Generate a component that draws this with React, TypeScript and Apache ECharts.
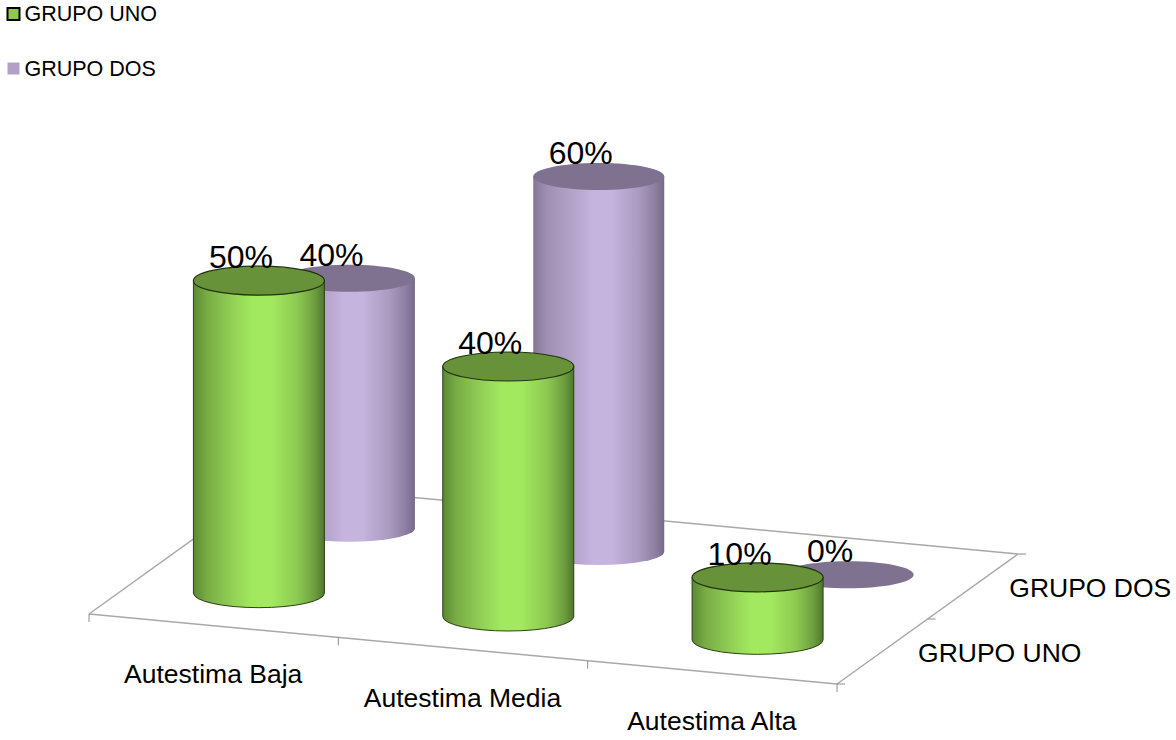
import React, { useEffect, useRef } from "react";
import * as echarts from "echarts";

const categories = ["Autestima Baja", "Autestima Media", "Autestima Alta"];
const groupNames = ["GRUPO UNO", "GRUPO DOS"];
const grupoUno = [50, 40, 10];
const grupoDos = [40, 60, 0];

const FONT = '"Liberation Sans", Arial, sans-serif';
const DEPTH_X = 90.5;
const DEPTH_Y = -65;
const SLOPE = 70 / 3;

function project(api: any, u: number, d: number, v: number) {
  const p = api.coord([u, v]);
  return [p[0] + d * DEPTH_X, p[1] + u * SLOPE + d * DEPTH_Y];
}

const greenGrad = () =>
  new echarts.graphic.LinearGradient(0, 0, 1, 0, [
    { offset: 0, color: "#5a8832" },
    { offset: 0.1, color: "#78ab45" },
    { offset: 0.3, color: "#92d056" },
    { offset: 0.45, color: "#a2e95f" },
    { offset: 0.6, color: "#a2e95f" },
    { offset: 0.8, color: "#8cc850" },
    { offset: 0.93, color: "#6c9c3e" },
    { offset: 1, color: "#4f762d" },
  ]);
const purpleGrad = () =>
  new echarts.graphic.LinearGradient(0, 0, 1, 0, [
    { offset: 0, color: "#84769a" },
    { offset: 0.1, color: "#9e8fb2" },
    { offset: 0.3, color: "#b3a3c9" },
    { offset: 0.45, color: "#c4b4de" },
    { offset: 0.6, color: "#c4b4de" },
    { offset: 0.8, color: "#ab9bc1" },
    { offset: 0.93, color: "#8d7fa1" },
    { offset: 1, color: "#756989" },
  ]);

function cylinder(d: number, green: boolean) {
  return (_: any, api: any) => {
    const u = api.value(0) as number;
    const v = api.value(1) as number;
    const base = project(api, u, d, 0);
    const top = project(api, u, d, v);
    const rx = 65.5;
    const ry = green ? 14.5 : 13.5;
    const stroke = green ? "#2c4116" : undefined;
    const children: any[] = [];
    if (v > 0) {
      children.push({
        type: "path",
        shape: {
          pathData: `M${base[0] - rx} ${top[1]}L${base[0] - rx} ${base[1]}A${rx} ${ry} 0 0 0 ${base[0] + rx} ${base[1]}L${base[0] + rx} ${top[1]}Z`,
        },
        style: { fill: green ? greenGrad() : purpleGrad(), stroke, lineWidth: green ? 1 : 0 },
      });
    }
    children.push({
      type: "ellipse",
      shape: { cx: top[0], cy: top[1], rx, ry },
      style: { fill: green ? "#67923a" : "#7f7190", stroke: green ? "#22330f" : undefined, lineWidth: green ? 1.2 : 0 },
    });
    return { type: "group", children };
  };
}

function valueLabel(d: number) {
  return (_: any, api: any) => {
    const top = project(api, api.value(0) as number, d, api.value(1) as number);
    return {
      type: "text",
      x: top[0] - 18,
      y: top[1] - 7.5,
      style: {
        text: `${api.value(1)}%`,
        font: `32px ${FONT}`,
        fill: "#000",
        align: "center",
        verticalAlign: "bottom",
      },
    };
  };
}

const floorRender = (_: any, api: any) => {
  const n = categories.length;
  const m = groupNames.length;
  const line = (a: number[], b: number[], color = "#a8a8a8", lineWidth = 1.5) => ({
    type: "line",
    shape: { x1: a[0], y1: a[1], x2: b[0], y2: b[1] },
    style: { stroke: color, lineWidth },
  });
  const fl = project(api, 0, 0, 0);
  const fr = project(api, n, 0, 0);
  const br = project(api, n, m, 0);
  const bl = project(api, 0, m, 0);
  const children: any[] = [line(fl, fr), line(fr, br), line(br, bl), line(bl, fl)];
  for (let i = 0; i <= n; i++) {
    const p = project(api, i, 0, 0);
    children.push(line(p, [p[0], p[1] + 8], "#8c8c8c", 1));
  }
  for (let j = 0; j <= m; j++) {
    const p = project(api, n, j, 0);
    children.push(line(p, [p[0] + 8, p[1]], "#8c8c8c", 1));
  }
  return { type: "group", children };
};

const catLabelRender = (_: any, api: any) => {
  const i = api.value(0) as number;
  const p = project(api, i + 0.5, 0, 0);
  return {
    type: "text",
    x: p[0] - 0.5,
    y: p[1] + 48.5,
    style: { text: categories[i], font: `26.5px ${FONT}`, fill: "#000", align: "center", verticalAlign: "middle" },
  };
};

const depthLabelRender = (_: any, api: any) => {
  const j = api.value(0) as number;
  const p = project(api, categories.length, j + 0.5, 0);
  return {
    type: "text",
    x: p[0] + 117.5,
    y: p[1] + 1,
    style: { text: groupNames[j], font: `26.5px ${FONT}`, fill: "#000", align: "center", verticalAlign: "middle" },
  };
};

const pos = (arr: number[]) => arr.map((v, i) => [i + 0.5, v]);

export default function App() {
  const ref = useRef<HTMLDivElement>(null);
  useEffect(() => {
    const chart = echarts.init(ref.current!, undefined, { renderer: "svg" });
    chart.setOption({
      animation: false,
      backgroundColor: "#fff",
      grid: { left: 89, width: 748, top: 51.5, height: 562.5 },
      xAxis: { type: "value", min: 0, max: 3, show: false },
      yAxis: { type: "value", min: 0, max: 90, show: false },
      legend: {
        orient: "vertical",
        left: 6.5,
        top: 3,
        padding: 0,
        itemWidth: 12,
        itemHeight: 12,
        itemGap: 32.5,
        textStyle: { fontFamily: FONT, fontSize: 21.5, color: "#000" },
        data: [
          { name: groupNames[0], icon: "rect", itemStyle: { color: "#92c850", borderColor: "#000", borderWidth: 2 } },
          { name: groupNames[1], icon: "rect", itemStyle: { color: "#b2a1c7", borderWidth: 0 } },
        ],
      },
      series: [
        { type: "custom", name: "floor", z: 1, silent: true, data: [[0, 0]], renderItem: floorRender },
        {
          type: "custom", name: groupNames[0], z: 4, silent: true,
          itemStyle: { color: "#92c850" },
          data: pos(grupoUno), renderItem: cylinder(0.5, true),
        },
        {
          type: "custom", name: groupNames[1], z: 3, silent: true,
          itemStyle: { color: "#b2a1c7" },
          data: pos(grupoDos), renderItem: cylinder(1.5, false),
        },
        { type: "custom", name: "labels1", z: 6, silent: true, data: pos(grupoUno), renderItem: valueLabel(0.5) },
        { type: "custom", name: "labels2", z: 6, silent: true, data: pos(grupoDos), renderItem: valueLabel(1.5) },
        { type: "custom", name: "cats", z: 6, silent: true, data: categories.map((_, i) => [i, 0]), renderItem: catLabelRender },
        { type: "custom", name: "depth", z: 6, silent: true, data: groupNames.map((_, i) => [i, 0]), renderItem: depthLabelRender },
      ],
    });
    return () => chart.dispose();
  }, []);
  return <div ref={ref} style={{ position: "absolute", left: 0, top: 0, width: 1176, height: 740 }} />;
}
